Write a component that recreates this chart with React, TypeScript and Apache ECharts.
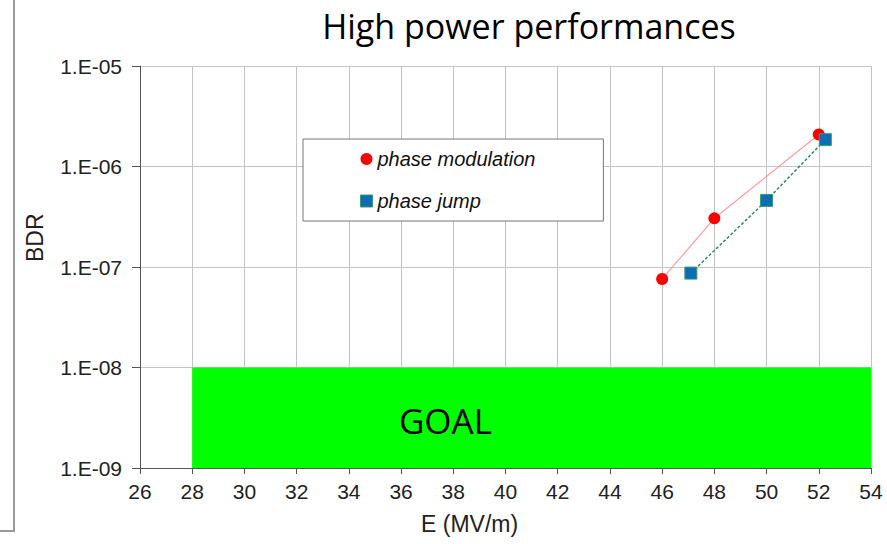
import React, { useEffect, useRef } from "react";
import * as echarts from "echarts";

const titleText = "High power performances";
const xAxisName = "E (MV/m)";
const yAxisName = "BDR";
const seriesNames = ["phase modulation", "phase jump"];
const modulationE = [46, 48, 52];
const modulationBDR = [7.6e-8, 3.05e-7, 2.08e-6];
const jumpE = [47.1, 50, 52.25];
const jumpBDR = [8.7e-8, 4.6e-7, 1.85e-6];
const goalLabel = "GOAL";
const goalE = [28, 54];
const goalBDR = [1e-9, 1e-8];
const goalLabelAt = [37.7, 3.0e-9];

export default function App() {
  const ref = useRef<HTMLDivElement>(null);
  useEffect(() => {
    if (!ref.current) return;
    const chart = echarts.init(ref.current, null, { renderer: "svg" });
    const axisFont = "'Liberation Sans', Arial, sans-serif";
    chart.setOption({
      animation: false,
      backgroundColor: "#ffffff",
      title: {
        text: titleText,
        left: 524,
        top: 4,
        textAlign: "center",
        textStyle: { fontFamily: "'Open Sans', sans-serif", fontSize: 34, fontWeight: "normal", color: "#000" },
      },
      grid: { left: 140, right: 16, top: 66, bottom: 76, containLabel: false },
      legend: {
        left: 303,
        top: 139,
        orient: "vertical",
        padding: [10, 68, 10, 57],
        itemWidth: 12,
        itemHeight: 12,
        itemGap: 22,
        borderColor: "#777",
        borderWidth: 1,
        backgroundColor: "#fff",
        textStyle: { fontFamily: axisFont, fontSize: 20, fontStyle: "italic", color: "#111", lineHeight: 20 },
        data: [
          { name: seriesNames[0], icon: "circle", itemStyle: { color: "#ff0000", borderWidth: 0 } },
          { name: seriesNames[1], icon: "rect", itemStyle: { color: "#0b6db5", borderColor: "#3a9a6a", borderWidth: 1 } },
        ],
      },
      xAxis: {
        type: "value",
        min: 26,
        max: 54,
        interval: 2,
        axisLine: { show: true, lineStyle: { color: "#555", width: 1 } },
        axisTick: { show: true, length: 6, lineStyle: { color: "#555" } },
        axisLabel: { fontFamily: axisFont, fontSize: 21, color: "#222", margin: 13 },
        splitLine: { show: true, lineStyle: { color: "#c4c4c4", width: 1 } },
      },
      yAxis: {
        type: "log",
        logBase: 10,
        min: 1e-9,
        max: 1e-5,
        axisLine: { show: true, onZero: false, lineStyle: { color: "#555", width: 1 } },
        axisTick: { show: true, length: 8, lineStyle: { color: "#555" } },
        axisLabel: {
          fontFamily: axisFont,
          fontSize: 21,
          color: "#222",
          margin: 18,
          formatter: (v: number) => {
            const e = Math.round(Math.log10(v));
            const a = Math.abs(e);
            return "1.E" + (e < 0 ? "-" : "+") + (a < 10 ? "0" + a : String(a));
          },
        },
        splitLine: { show: true, lineStyle: { color: "#c4c4c4", width: 1 } },
        minorTick: { show: false },
      },
      series: [
        {
          name: seriesNames[0],
          type: "line",
          data: modulationE.map((e, i) => [e, modulationBDR[i]]),
          symbol: "circle",
          symbolSize: 12,
          lineStyle: { color: "#ff9c9c", width: 1.2 },
          itemStyle: { color: "#ff0000" },
          z: 3,
          markArea: {
            silent: true,
            itemStyle: { color: "#00ff00", opacity: 1 },
            label: { show: false },
            data: [[{ xAxis: goalE[0], yAxis: goalBDR[0] }, { xAxis: goalE[1], yAxis: goalBDR[1] }]],
          },
          markPoint: {
            silent: true,
            symbol: "circle",
            symbolSize: 1,
            itemStyle: { color: "rgba(0,0,0,0)" },
            label: {
              show: true,
              position: "inside",
              formatter: goalLabel,
              fontFamily: "'Open Sans', sans-serif",
              fontSize: 35,
              color: "#000",
            },
            data: [{ coord: goalLabelAt }],
          },
        },
        {
          name: seriesNames[1],
          type: "line",
          data: jumpE.map((e, i) => [e, jumpBDR[i]]),
          symbol: "rect",
          symbolSize: 12,
          lineStyle: { color: "#2e8b5a", width: 1.5, type: [3, 2] },
          itemStyle: { color: "#0b6db5", borderColor: "#3a9a6a", borderWidth: 1 },
          z: 3,
        },
      ],
      graphic: [
        {
          type: "text",
          left: 421,
          top: 512,
          style: { text: xAxisName, fontFamily: axisFont, fontSize: 23, fill: "#222" },
        },
        {
          type: "text",
          x: 23,
          y: 262,
          rotation: Math.PI / 2,
          style: { text: yAxisName, fontFamily: axisFont, fontSize: 23, fill: "#222" },
        },
        {
          type: "polyline",
          shape: { points: [[14, 0], [14, 531], [0, 531]] },
          style: { stroke: "#999", lineWidth: 2, fill: "none" },
        },
      ],
    });
    return () => chart.dispose();
  }, []);
  return <div ref={ref} style={{ width: 887, height: 544, position: "absolute", left: 0, top: 0 }} />;
}
